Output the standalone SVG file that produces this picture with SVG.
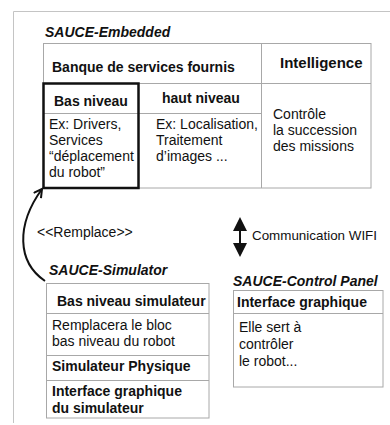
<svg xmlns="http://www.w3.org/2000/svg" width="390" height="425" viewBox="0 0 390 425">
<style>
text{font-family:"Liberation Sans",Arial,sans-serif;fill:#111}
.h{font-size:14px;font-weight:bold;font-style:italic}
.b{font-size:14px;font-weight:bold}
.r{font-size:14px}
.thin{fill:none;stroke:#a8a8a8;stroke-width:1}
.frame{fill:none;stroke:#c4c4c4;stroke-width:1}
</style>
<defs>
<marker id="open" markerUnits="userSpaceOnUse" markerWidth="12" markerHeight="12" refX="9" refY="5" orient="auto">
<path d="M1,0.5 L9,5 L1,9.5" fill="none" stroke="#111" stroke-width="2"/>
</marker>
</defs>
<rect width="390" height="425" fill="#fff"/>
<path class="frame" d="M390,11.5 H13.5 V423"/>

<g id="embedded">
<text class="h" x="45" y="36.5">SAUCE-Embedded</text>
<rect class="thin" x="43.5" y="43.5" width="327.5" height="144.5"/>
<line class="thin" x1="43.5" y1="83.5" x2="371" y2="83.5"/>
<line class="thin" x1="261.5" y1="43.5" x2="261.5" y2="188"/>
<line class="thin" x1="43.5" y1="113.5" x2="261.5" y2="113.5"/>
<text class="b" x="52" y="72">Banque de services fournis</text>
<text class="b" x="280" y="68" style="font-size:15px">Intelligence</text>
<text class="b" x="162" y="103">haut niveau</text>
<text class="r" x="156" y="129">Ex: Localisation,</text>
<text class="r" x="156" y="145">Traitement</text>
<text class="r" x="156" y="161">d’images ...</text>
<text class="r" x="273" y="119">Contrôle</text>
<text class="r" x="273" y="135">la succession</text>
<text class="r" x="273" y="151">des missions</text>
</g>

<g id="bas-niveau">
<rect x="43.5" y="83.5" width="95" height="104.5" fill="none" stroke="#111" stroke-width="2.5"/>
<text class="b" x="54" y="106">Bas niveau</text>
<text class="r" x="49" y="129">Ex: Drivers,</text>
<text class="r" x="49" y="145">Services</text>
<text class="r" x="49" y="161">“déplacement</text>
<text class="r" x="49" y="177">du robot”</text>
</g>

<g id="simulator">
<text class="h" x="49" y="275">SAUCE-Simulator</text>
<rect class="thin" x="46.5" y="283.5" width="162.5" height="134.5"/>
<line class="thin" x1="46.5" y1="313.5" x2="209" y2="313.5"/>
<line class="thin" x1="46.5" y1="355.5" x2="209" y2="355.5"/>
<line class="thin" x1="46.5" y1="380.5" x2="209" y2="380.5"/>
<text class="b" x="57" y="306">Bas niveau simulateur</text>
<text class="r" x="52" y="330">Remplacera le bloc</text>
<text class="r" x="52" y="346">bas niveau du robot</text>
<text class="b" x="52" y="371">Simulateur Physique</text>
<text class="b" x="52" y="396">Interface graphique</text>
<text class="b" x="52" y="413">du simulateur</text>
</g>

<g id="control-panel">
<text class="h" x="233" y="286">SAUCE-Control Panel</text>
<rect class="thin" x="233.5" y="290.5" width="149.5" height="96.5"/>
<line class="thin" x1="233.5" y1="313.5" x2="383" y2="313.5"/>
<text class="b" x="237" y="307">Interface graphique</text>
<text class="r" x="239" y="332">Elle sert à</text>
<text class="r" x="239" y="349">contrôler</text>
<text class="r" x="239" y="366">le robot...</text>
</g>

<g id="labels">
<text class="r" x="37" y="237">&lt;&lt;Remplace&gt;&gt;</text>
<text class="r" x="252" y="240" style="font-size:13.4px">Communication WIFI</text>
</g>

<g id="connectors">
<path d="M45,281 C17,262 16,225 42,189" fill="none" stroke="#111" stroke-width="2" marker-end="url(#open)"/>
<line x1="240" y1="229" x2="240" y2="245" stroke="#111" stroke-width="2"/>
<path d="M240,217 L233,231 L247,231 Z M240,257 L233,243 L247,243 Z" fill="#111"/>
</g>
</svg>
